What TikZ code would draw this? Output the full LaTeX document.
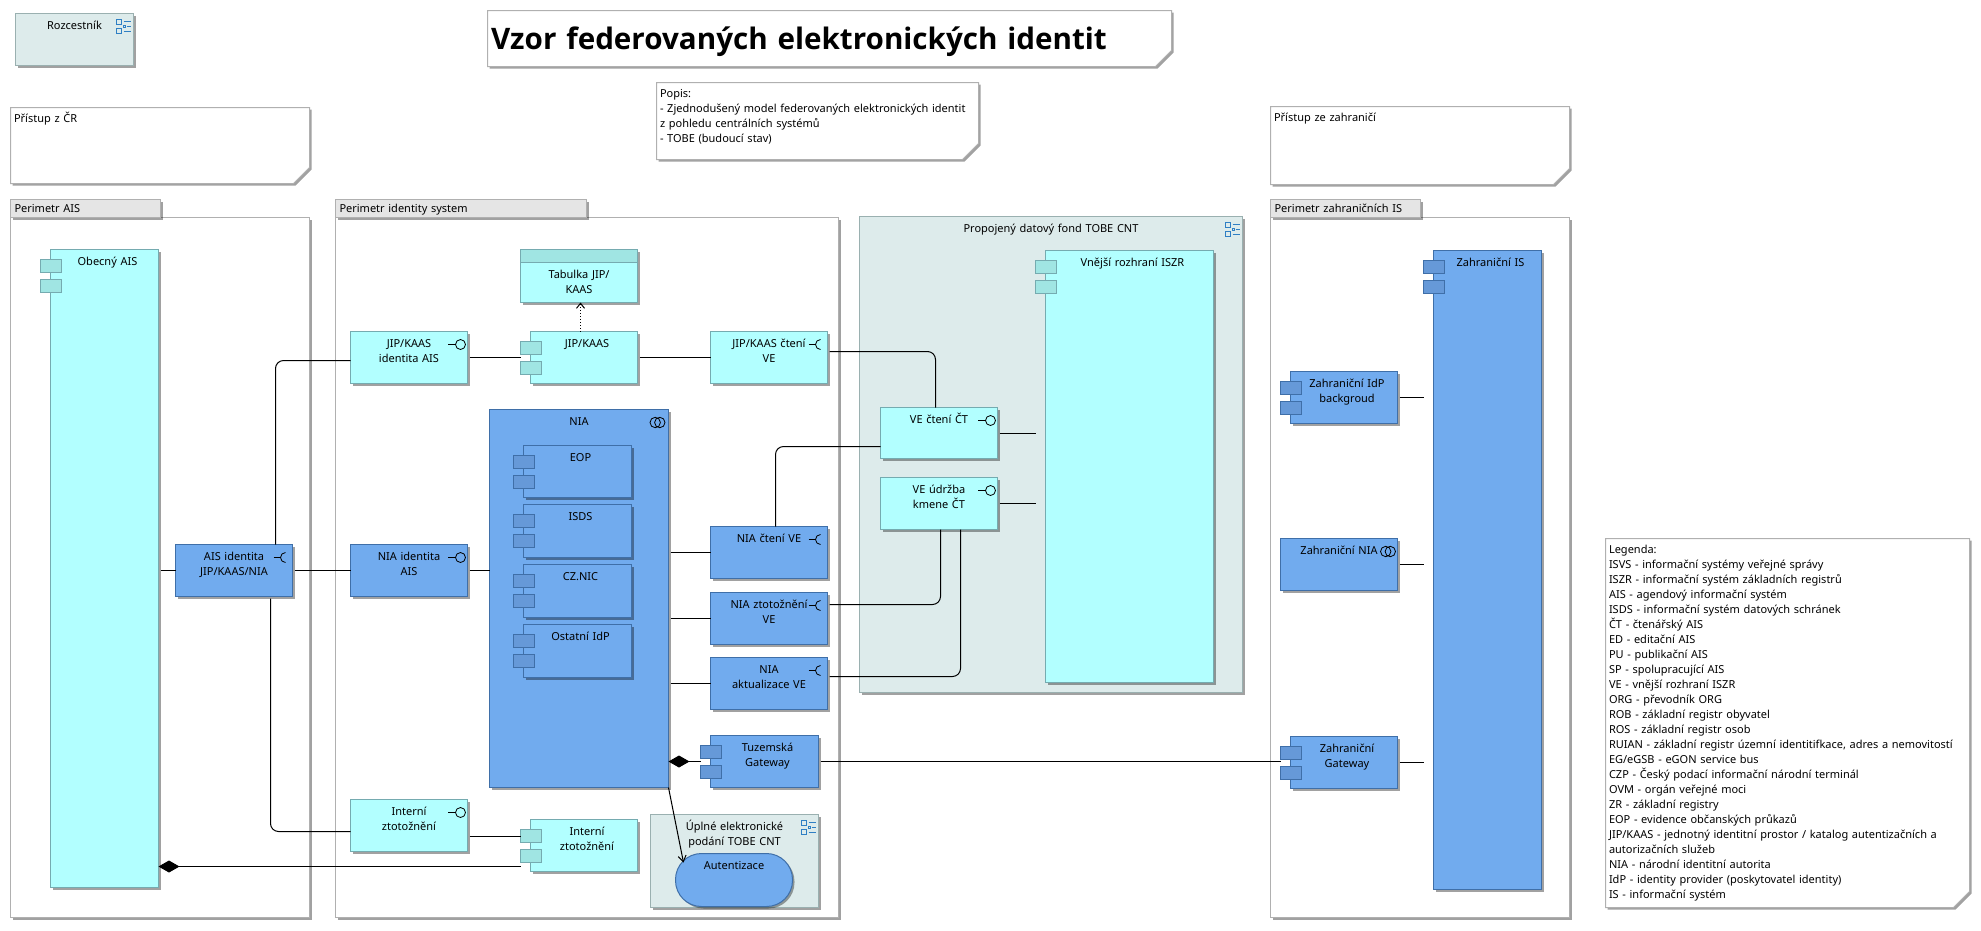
\documentclass[tikz,border=0pt]{standalone}
\usepackage{fontspec}
\setmainfont{Noto Sans}
\newfontfamily\titlefont{Open Sans}
\usetikzlibrary{
    shapes,
    positioning,
    shadows,
    arrows.meta,
}
\definecolor{appfill}{HTML}{B2FFFF}
\definecolor{appline}{HTML}{75ABB0}
\definecolor{appport}{HTML}{A0E5E3}
\definecolor{techfill}{HTML}{71ABEE}
\definecolor{techline}{HTML}{3F6FA8}
\definecolor{techport}{HTML}{6699D8}
\definecolor{groupfill}{HTML}{DDEBEB}
\definecolor{groupline}{HTML}{9AB0B0}
\definecolor{tabfill}{HTML}{E5E5E5}
\definecolor{frameline}{HTML}{B0B0B0}
\definecolor{iconblue}{HTML}{2F7FC4}
\tikzset{
    base/.style={rectangle, draw, inner sep=0pt, outer sep=0pt, line width=1pt, text height=16pt,
        font=\fontsize{11}{15}\selectfont, align=center,
        drop shadow={shadow xshift=2pt, shadow yshift=-2pt, fill=black, opacity=.37}},
    boxsize/.style 2 args={text width=#1, text depth={#2-16pt}},
    app/.style={base, fill=appfill, draw=appline},
    tech/.style={base, fill=techfill, draw=techline},
    iface/.style={boxsize={117pt}{52pt}},
    comp/.style={execute at begin node={\advance\leftskip 6pt}},
    group/.style={base, fill=groupfill, draw=groupline},
    perim/.style={base, fill=white, draw=frameline},
    tab/.style={base, fill=tabfill, draw=frameline, align=left, inner xsep=4pt, text height=13pt, text depth=5pt},
    note/.style={base, chamfered rectangle, chamfered rectangle corners=south east,
        chamfered rectangle xsep=8pt, chamfered rectangle ysep=8pt, fill=white, draw=frameline, align=left,
        text height=15pt, inner xsep=-4.5pt, inner ysep=-8pt},
    port/.style={rectangle, draw, inner sep=0pt, outer sep=0pt, line width=1pt, minimum width=21pt, minimum height=13pt},
    appport/.style={port, fill=appport, draw=appline},
    techport/.style={port, fill=techport, draw=techline},
    link/.style={line width=1pt, shorten <=2pt},
    pics/provided/.style={code={
        \draw[line width=.8pt] (-12.5pt,0pt) -- (-5pt,0pt);
        \draw[line width=.8pt] (0pt,0pt) circle (5pt);
    }},
    pics/required/.style={code={
        \draw[line width=.8pt] (-12pt,0pt) -- (-5pt,0pt);
        \draw[line width=.8pt] (0pt,5pt) arc (90:270:5pt);
    }},
    pics/service/.style={code={
        \draw[line width=.8pt] (-2.3pt,0pt) circle (5.2pt);
        \draw[line width=.8pt] (2.3pt,0pt) circle (5.2pt);
    }},
    pics/nested/.style={code={
        \draw[iconblue, line width=.8pt] (-7pt,2pt) rectangle (-2pt,7pt);
        \draw[iconblue, line width=.8pt] (-7pt,-7pt) rectangle (-2pt,-2pt);
        \draw[iconblue, line width=.8pt] (0pt,5pt) -- (7pt,5pt);
        \draw[iconblue, line width=.8pt] (0pt,-5pt) -- (7pt,-5pt);
        \draw[iconblue, line width=.8pt] (3pt,0pt) -- (7pt,0pt);
        \draw[iconblue, line width=.8pt] (0pt,-1pt) rectangle (2pt,1pt);
    }},
}
\newcommand{\appports}[1]{
    \node[appport, below right=10pt and -10pt of #1.north west] (#1_pa) {};
    \node[appport, below=7pt of #1_pa] (#1_pb) {};
}
\newcommand{\techports}[1]{
    \node[techport, below right=10pt and -10pt of #1.north west] (#1_pa) {};
    \node[techport, below=7pt of #1_pa] (#1_pb) {};
}
\begin{document}
\begin{tikzpicture}[x=1pt, y=-1pt]
    \useasboundingbox (0,0) rectangle (1981,930);

    % ===== FRAMES AND NOTES =====
    \node[perim, boxsize={299pt}{700pt}, anchor=north west] (per_ais) at (10.5,217.5) {};
    \node[tab, text width=142pt, above right=0pt and 0pt of per_ais.north west] (tab_ais) {Perimetr AIS};
    \node[perim, boxsize={503pt}{700pt}, below right=0pt and 26pt of per_ais.north east] (per_id) {};
    \node[tab, text width=243pt, above right=0pt and 0pt of per_id.north west] (tab_id) {Perimetr identity system};
    \node[perim, boxsize={299pt}{700pt}, below right=0pt and 432pt of per_id.north east] (per_zahr) {};
    \node[tab, text width=142pt, above right=0pt and 0pt of per_zahr.north west] (tab_zahr) {Perimetr zahraničních IS};

    \node[note, boxsize={292pt}{77pt}, above right=16pt and 0pt of tab_ais.north west] (pristup_cr) {Přístup z ČR};
    \node[note, boxsize={292pt}{79pt}, above right=15pt and 0pt of tab_zahr.north west] (pristup_za) {Přístup ze zahraničí};

    \node[group, boxsize={383pt}{476pt}, below right=-1pt and 21pt of per_id.north east] (fond) {Propojený datový fond TOBE CNT};
    \node[note, boxsize={315pt}{78pt}, above right=57pt and -203pt of fond.north west] (popis) {Popis:\\- Zjednodušený model federovaných elektronických identit\\z pohledu centrálních systémů\\- TOBE (budoucí stav)};
    \node[note, font=\fontsize{29.6}{34}\titlefont\bfseries, text height=39pt, text depth=17pt, text width=677pt, above right=16pt and -169pt of popis.north west] (title) {Vzor federovaných elektronických identit};
    \node[group, boxsize={118pt}{52pt}, anchor=north west] (rozcestnik) at (15.5,13.5) {Rozcestník};

    \node[note, boxsize={357pt}{370pt}, below right=-379pt and 36pt of per_zahr.south east] (legend) {Legenda:\\ISVS - informační systémy veřejné správy\\ISZR - informační systém základních registrů\\AIS - agendový informační systém\\ISDS - informační systém datových schránek\\ČT - čtenářský AIS\\ED - editační AIS\\PU - publikační AIS\\SP - spolupracující AIS\\VE - vnější rozhraní ISZR\\ORG - převodník ORG\\ROB - základní registr obyvatel\\ROS - základní registr osob\\RUIAN - základní registr územní identitifkace, adres a nemovitostí\\EG/eGSB - eGON service bus\\CZP - Český podací informační národní terminál\\OVM - orgán veřejné moci\\ZR - základní registry\\EOP - evidence občanských průkazů\\JIP/KAAS - jednotný identitní prostor / katalog autentizačních a\\autorizačních služeb\\NIA - národní identitní autorita\\IdP - identity provider (poskytovatel identity)\\IS - informační systém};

    % ===== AIS SIDE =====
    \node[app, comp, boxsize={108pt}{638pt}, below right=32pt and 40pt of per_ais.north west] (obecny) {Obecný AIS};
    \appports{obecny}
    \node[tech, iface, below right=295pt and 17pt of obecny.north east] (ais_id) {AIS identita\\JIP/KAAS/NIA};

    % ===== IDENTITY SYSTEM =====
    \node[tech, iface, below right=0pt and 58pt of ais_id.north east] (nia_id) {NIA identita\\AIS};
    \node[app, iface, above=161pt of nia_id] (jip_id) {JIP/KAAS\\identita AIS};
    \node[app, iface, below=203pt of nia_id] (int_id) {Interní\\ztotožnění};

    \node[app, comp, boxsize={107pt}{52pt}, below right=0pt and 63pt of jip_id.north east] (jip) {JIP/KAAS};
    \appports{jip}
    \node[app, text height=29pt, text depth=24pt, text width=117pt, above right=29pt and -10pt of jip.north west] (tabulka) {Tabulka JIP/\\KAAS};
    \node[rectangle, draw=appline, fill=appport, line width=1pt, inner sep=0pt, outer sep=0pt, minimum width=117pt, minimum height=13pt, below=0pt of tabulka.north] (tabulka_head) {};
    \node[app, iface, below right=0pt and 73pt of jip.north east] (jip_cteni) {JIP/KAAS čtení\\VE};

    \node[tech, boxsize={179pt}{378pt}, below right=26pt and -41pt of jip.south west] (nia) {NIA};
    \node[tech, comp, boxsize={108pt}{52pt}, below right=36pt and 34pt of nia.north west] (eop) {EOP};
    \techports{eop}
    \node[tech, comp, boxsize={108pt}{53pt}, below=7pt of eop] (isds) {ISDS};
    \techports{isds}
    \node[tech, comp, boxsize={108pt}{53pt}, below=7pt of isds] (cznic) {CZ.NIC};
    \techports{cznic}
    \node[tech, comp, boxsize={108pt}{53pt}, below=7pt of cznic] (ostatni) {Ostatní IdP};
    \techports{ostatni}

    \node[tech, iface, below=143pt of jip_cteni] (nia_cteni) {NIA čtení VE};
    \node[tech, iface, below=14pt of nia_cteni] (nia_ztot) {NIA ztotožnění\\VE};
    \node[tech, iface, below=13pt of nia_ztot] (nia_akt) {NIA\\aktualizace VE};

    \node[tech, comp, boxsize={108pt}{52pt}, below right=26pt and 0pt of nia_akt.south west] (tuzemska) {Tuzemská\\Gateway};
    \techports{tuzemska}
    \node[group, boxsize={168pt}{93pt}, below right=27pt and -60pt of tuzemska.south west] (podani) {Úplné elektronické\\podání TOBE CNT};
    \node[tech, rounded corners=26pt, boxsize={117pt}{53pt}, below right=39pt and 25pt of podani.north west] (autentizace) {Autentizace};
    \node[app, comp, boxsize={107pt}{52pt}, below right=20pt and 63pt of int_id.north east] (int_comp) {Interní\\ztotožnění};
    \appports{int_comp}

    % ===== PROPOJENY DATOVY FOND =====
    \node[app, boxsize={117pt}{51pt}, below right=191pt and 21pt of fond.north west] (ve_cteni) {VE čtení ČT};
    \node[app, iface, below=19pt of ve_cteni] (ve_udrzba) {VE údržba\\kmene ČT};
    \node[app, comp, boxsize={168pt}{432pt}, below right=34pt and 186pt of fond.north west] (vnejsi) {Vnější rozhraní ISZR};
    \appports{vnejsi}

    % ===== ZAHRANICI =====
    \node[tech, comp, boxsize={108pt}{639pt}, below right=33pt and 163pt of per_zahr.north west] (zahr_is) {Zahraniční IS};
    \techports{zahr_is}
    \node[tech, comp, boxsize={107pt}{52pt}, below right=154pt and 20pt of per_zahr.north west] (zahr_idp) {Zahraniční IdP\\backgroud};
    \techports{zahr_idp}
    \node[tech, iface, below left=115pt and 0pt of zahr_idp.south east] (zahr_nia) {Zahraniční NIA\hspace*{10pt}};
    \node[tech, comp, boxsize={107pt}{52pt}, below right=146pt and 10pt of zahr_nia.south west] (zahr_gw) {Zahraniční\\Gateway};
    \techports{zahr_gw}

    % ===== ICONS =====
    \pic at ([shift={(-10pt,-13pt)}]rozcestnik.north east) {nested};
    \pic at ([shift={(-10pt,-13pt)}]fond.north east) {nested};
    \pic at ([shift={(-10pt,-13pt)}]podani.north east) {nested};
    \pic at ([shift={(-11pt,-13pt)}]nia.north east) {service};
    \pic at ([shift={(-9.5pt,-13pt)}]zahr_nia.north east) {service};

    \pic at ([shift={(-7pt,-13pt)}]jip_id.north east) {provided};
    \pic at ([shift={(-7pt,-13pt)}]nia_id.north east) {provided};
    \pic at ([shift={(-7pt,-13pt)}]int_id.north east) {provided};
    \pic at ([shift={(-7pt,-13pt)}]ve_cteni.north east) {provided};
    \pic at ([shift={(-7pt,-13pt)}]ve_udrzba.north east) {provided};
    \pic at ([shift={(-7pt,-13pt)}]ais_id.north east) {required};
    \pic at ([shift={(-7pt,-13pt)}]jip_cteni.north east) {required};
    \pic at ([shift={(-7pt,-13pt)}]nia_cteni.north east) {required};
    \pic at ([shift={(-7pt,-13pt)}]nia_ztot.north east) {required};
    \pic at ([shift={(-7pt,-13pt)}]nia_akt.north east) {required};

    % ===== DRAW ALL CONNECTIONS =====
    \draw[link] (obecny.east |- ais_id.west) -- (ais_id.west);
    \draw[link] (ais_id.east) -- (nia_id.west);
    \draw[link] (nia_id.east) -- (nia_id.east -| nia.west);

    \draw[link, shorten <=0pt, rounded corners=8pt] ([yshift=-3pt]jip_id.west) -| ([xshift=41.5pt]ais_id.north);
    \draw[link, rounded corners=8pt] ([xshift=36.5pt]ais_id.south) |- ([yshift=-6pt]int_id.west);

    \draw[link] (jip_id.east) -- (jip_id.east -| jip_pa.west);
    \draw[link] (jip.east) -- (jip.east -| jip_cteni.west);
    \draw[line width=1pt, dotted, -{Straight Barb[length=5pt, width=8pt]}] ([xshift=-3.5pt]jip.north) -- ([xshift=-3.5pt]jip.north |- tabulka.south);
    \draw[link, rounded corners=8pt] ([yshift=6pt]jip_cteni.east) -| ([xshift=-3.5pt]ve_cteni.north);

    \draw[link] ([yshift=-11pt]int_id.east) -- ([yshift=-11pt]int_id.east -| int_comp_pa.west);
    \draw[link, shorten <=0pt, {Diamond[length=21pt, width=12pt]}-] ([yshift=-10.5pt]obecny.east |- int_comp_pb.west) -- ([yshift=-10.5pt]int_comp_pb.west);

    \draw[link] (nia_cteni.west -| nia.east) -- (nia_cteni.west);
    \draw[link] (nia_ztot.west -| nia.east) -- (nia_ztot.west);
    \draw[link] (nia_akt.west -| nia.east) -- (nia_akt.west);

    \draw[link, shorten <=0pt, rounded corners=8pt] ([yshift=-13.5pt]ve_cteni.west) -| ([xshift=6.5pt]nia_cteni.north);
    \draw[link, rounded corners=8pt] ([yshift=14pt]nia_ztot.east) -| ([xshift=1.5pt]ve_udrzba.south);
    \draw[link, rounded corners=8pt] ([yshift=7pt]nia_akt.east) -| ([xshift=21.5pt]ve_udrzba.south);

    \draw[link] ([yshift=-.5pt]ve_cteni.east) -- ([yshift=-.5pt]ve_cteni.east -| vnejsi_pa.west);
    \draw[link] (ve_udrzba.east) -- (ve_udrzba.east -| vnejsi_pa.west);

    \draw[link, shorten <=0pt, {Diamond[length=21pt, width=12pt]}-] (nia.east |- tuzemska.west) -- (tuzemska.west -| tuzemska_pa.west);
    \draw[link] (tuzemska.east) -- (tuzemska.east -| zahr_gw_pa.west);
    \draw[line width=1pt, -{Straight Barb[length=6pt, width=8pt]}] (nia.south east) -- ([shift={(8pt,-9pt)}]autentizace.north west);

    \draw[link] (zahr_idp.east) -- (zahr_idp.east -| zahr_is_pa.west);
    \draw[link] (zahr_nia.east) -- (zahr_nia.east -| zahr_is_pa.west);
    \draw[link] (zahr_gw.east) -- (zahr_gw.east -| zahr_is_pa.west);

\end{tikzpicture}
\end{document}
